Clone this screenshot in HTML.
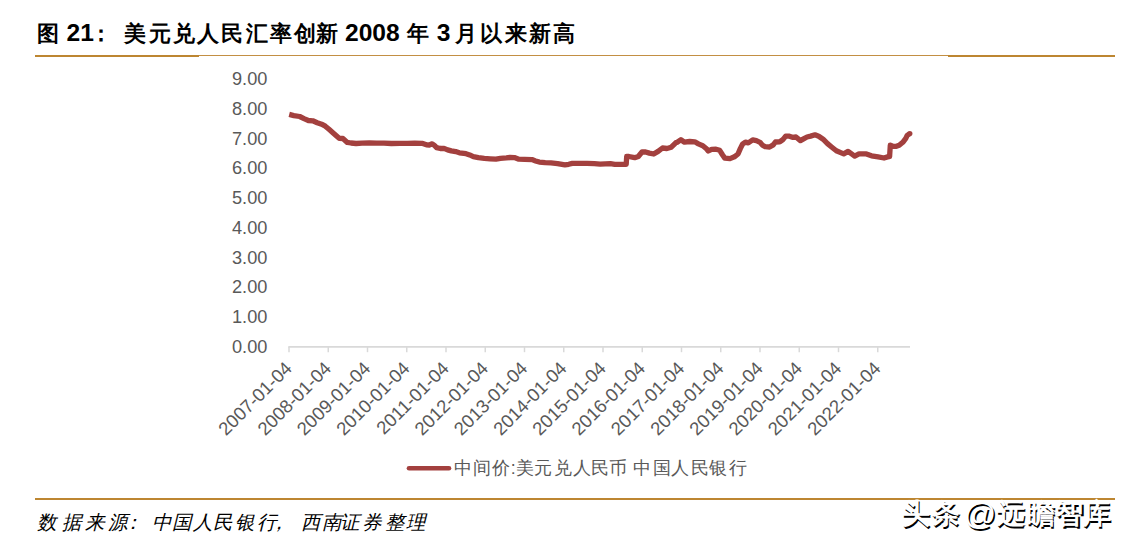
<!DOCTYPE html>
<html><head><meta charset="utf-8"><style>
html,body{margin:0;padding:0;background:#fff;}
body{width:1128px;height:546px;position:relative;overflow:hidden;font-family:"Liberation Sans",sans-serif;}
.rule1{position:absolute;left:35px;top:55px;width:164px;height:2px;background:#BD8631;}
.rule2{position:absolute;left:199px;top:55px;width:749px;height:1.3px;background:#C38F43;}
.rule4{position:absolute;left:948px;top:55px;width:167px;height:2px;background:#BD8631;}
.rule3{position:absolute;left:35px;top:498px;width:1080px;height:2px;background:#BD8631;}
svg{position:absolute;left:0;top:0;}
</style></head><body>
<div class="rule1"></div><div class="rule2"></div><div class="rule4"></div><div class="rule3"></div>
<svg width="1128" height="546" viewBox="0 0 1128 546">
<g font-family="Liberation Sans" font-weight="bold" fill="#000"><text><tspan x="37" y="40.6" font-size="22">图</tspan> <tspan x="66.6" y="41.2" font-size="24.6">21</tspan> <tspan x="90 123.9 149 173 196.5 221 246.2 269.6 294 316.4" y="40.6" font-size="22">：美元兑人民汇率创新</tspan> <tspan x="345" y="41.2" font-size="24.6">2008</tspan> <tspan x="407" y="40.6" font-size="22">年</tspan> <tspan x="436.8" y="41.2" font-size="24.6">3</tspan> <tspan x="454.9 480 505 529.4 552.8" y="40.6" font-size="22">月以来新高</tspan></text></g>
<g font-family="Liberation Sans" font-size="18.2" fill="#595959">
<text x="267.4" y="353.0" text-anchor="end">0.00</text>
<text x="267.4" y="323.2" text-anchor="end">1.00</text>
<text x="267.4" y="293.4" text-anchor="end">2.00</text>
<text x="267.4" y="263.6" text-anchor="end">3.00</text>
<text x="267.4" y="233.8" text-anchor="end">4.00</text>
<text x="267.4" y="204.1" text-anchor="end">5.00</text>
<text x="267.4" y="174.3" text-anchor="end">6.00</text>
<text x="267.4" y="144.5" text-anchor="end">7.00</text>
<text x="267.4" y="114.7" text-anchor="end">8.00</text>
<text x="267.4" y="84.9" text-anchor="end">9.00</text>

</g>
<line x1="288.3" y1="346.9" x2="910" y2="346.9" stroke="#D9D9D9" stroke-width="1.8"/>
<g stroke="#D9D9D9" stroke-width="1.5">
<line x1="289.00" y1="346.9" x2="289.00" y2="352.2" />
<line x1="328.25" y1="346.9" x2="328.25" y2="352.2" />
<line x1="367.50" y1="346.9" x2="367.50" y2="352.2" />
<line x1="406.75" y1="346.9" x2="406.75" y2="352.2" />
<line x1="446.00" y1="346.9" x2="446.00" y2="352.2" />
<line x1="485.25" y1="346.9" x2="485.25" y2="352.2" />
<line x1="524.50" y1="346.9" x2="524.50" y2="352.2" />
<line x1="563.75" y1="346.9" x2="563.75" y2="352.2" />
<line x1="603.00" y1="346.9" x2="603.00" y2="352.2" />
<line x1="642.25" y1="346.9" x2="642.25" y2="352.2" />
<line x1="681.50" y1="346.9" x2="681.50" y2="352.2" />
<line x1="720.75" y1="346.9" x2="720.75" y2="352.2" />
<line x1="760.00" y1="346.9" x2="760.00" y2="352.2" />
<line x1="799.25" y1="346.9" x2="799.25" y2="352.2" />
<line x1="838.50" y1="346.9" x2="838.50" y2="352.2" />
<line x1="877.75" y1="346.9" x2="877.75" y2="352.2" />

</g>
<g font-family="Liberation Sans" font-size="18.5" fill="#595959">
<text transform="translate(293.0,369.5) rotate(-45)" text-anchor="end">2007-01-04</text>
<text transform="translate(332.2,369.5) rotate(-45)" text-anchor="end">2008-01-04</text>
<text transform="translate(371.5,369.5) rotate(-45)" text-anchor="end">2009-01-04</text>
<text transform="translate(410.8,369.5) rotate(-45)" text-anchor="end">2010-01-04</text>
<text transform="translate(450.0,369.5) rotate(-45)" text-anchor="end">2011-01-04</text>
<text transform="translate(489.2,369.5) rotate(-45)" text-anchor="end">2012-01-04</text>
<text transform="translate(528.5,369.5) rotate(-45)" text-anchor="end">2013-01-04</text>
<text transform="translate(567.8,369.5) rotate(-45)" text-anchor="end">2014-01-04</text>
<text transform="translate(607.0,369.5) rotate(-45)" text-anchor="end">2015-01-04</text>
<text transform="translate(646.2,369.5) rotate(-45)" text-anchor="end">2016-01-04</text>
<text transform="translate(685.5,369.5) rotate(-45)" text-anchor="end">2017-01-04</text>
<text transform="translate(724.8,369.5) rotate(-45)" text-anchor="end">2018-01-04</text>
<text transform="translate(764.0,369.5) rotate(-45)" text-anchor="end">2019-01-04</text>
<text transform="translate(803.2,369.5) rotate(-45)" text-anchor="end">2020-01-04</text>
<text transform="translate(842.5,369.5) rotate(-45)" text-anchor="end">2021-01-04</text>
<text transform="translate(881.8,369.5) rotate(-45)" text-anchor="end">2022-01-04</text>

</g>
<path d="M289.2,114.4 L293.8,115.6 L299.7,116.5 L304.0,118.6 L308.4,120.5 L312.8,120.8 L317.2,122.7 L321.6,124.2 L325.3,126.2 L329.0,129.3 L332.6,132.5 L336.3,135.8 L339.2,138.3 L342.9,138.5 L347.3,142.4 L351.0,143.0 L356.1,143.5 L362.0,143.1 L369.3,143.0 L376.6,143.1 L384.0,143.1 L391.3,143.5 L400.0,143.4 L407.3,143.3 L414.7,143.2 L422.0,143.3 L426.4,144.8 L429.3,145.0 L432.2,143.8 L434.4,145.4 L436.6,147.6 L440.3,148.5 L444.0,148.3 L447.6,149.9 L451.3,150.9 L455.7,151.6 L459.4,152.8 L466.0,153.7 L469.7,154.9 L473.3,156.6 L478.4,157.6 L484.3,158.3 L490.2,158.8 L496.0,159.2 L500.4,158.4 L506.3,157.9 L510.0,157.5 L514.4,157.6 L518.8,159.2 L524.7,159.4 L532.0,159.6 L535.6,160.9 L539.3,162.1 L545.2,162.7 L551.0,162.9 L557.6,163.6 L564.9,164.9 L568.7,164.3 L572.3,163.4 L579.7,163.3 L587.0,163.3 L594.3,163.6 L600.2,164.2 L605.3,163.8 L610.4,163.6 L614.8,164.3 L620.7,164.3 L626.2,164.4 L626.7,156.3 L628.8,156.5 L634.7,157.7 L638.3,156.5 L642.0,152.0 L645.6,152.0 L649.3,153.1 L653.7,154.0 L658.1,151.4 L662.5,148.0 L666.9,148.5 L671.3,147.2 L675.7,142.8 L677.2,142.2 L680.9,139.8 L684.5,142.2 L689.7,141.5 L694.8,141.8 L698.4,143.9 L702.8,145.7 L706.5,148.8 L708.3,151.0 L711.6,149.3 L716.0,149.2 L719.7,150.3 L722.6,155.0 L724.8,158.1 L730.0,158.6 L734.4,156.8 L738.0,154.0 L740.3,148.6 L742.5,144.2 L745.4,142.1 L748.3,142.9 L752.7,139.9 L756.4,140.7 L760.0,142.3 L762.2,144.9 L765.2,146.7 L769.6,147.0 L773.2,144.9 L775.4,142.0 L779.8,141.8 L782.7,139.8 L785.7,136.1 L788.7,136.1 L792.3,137.3 L796.0,137.0 L800.4,140.6 L804.0,138.6 L807.0,137.0 L810.6,136.1 L815.0,134.8 L818.7,136.2 L823.1,139.2 L827.5,143.6 L831.9,147.2 L836.3,150.7 L840.7,152.6 L843.7,153.9 L848.1,151.4 L854.7,156.1 L859.0,153.9 L866.4,153.9 L871.5,155.8 L878.1,156.9 L884.0,158.0 L888.4,156.6 L889.6,156.5 L890.3,145.1 L892.7,146.2 L896.4,146.3 L899.2,145.3 L902.8,142.3 L905.8,138.3 L907.2,135.4 L909.8,133.6" fill="none" stroke="#A3403E" stroke-width="5.3" stroke-linejoin="round" stroke-linecap="butt"/>
<circle cx="909.8" cy="133.6" r="2.65" fill="#A3403E"/>
<line x1="409" y1="468.2" x2="449" y2="468.2" stroke="#A3403E" stroke-width="4.6" stroke-linecap="round"/>
</svg>
<svg width="1128" height="546" viewBox="0 0 1128 546">
<g font-family="Liberation Sans" font-size="17.8" font-weight="300" fill="#595959"><text x="454.0 472.8 492.2 510.8 515.7 534.4 553.6 572.6 591.4 609.2 627.0 633.3 652.5 670.9 691.0 709.4 729.2" y="474.2">中间价:美元兑人民币 中国人民银行</text></g>
<g font-family="Liberation Sans" font-size="19.5" font-style="italic" font-weight="500" fill="#000"><text x="36.8 61.6 85.2 108.2 123.1 151.7 172.0 192.8 212.9 234.8 257.0 268.6 300.8 321.9 340.1 362.4 385.2 406.0" y="529.1">数据来源：中国人民银行，西南证券整理</text></g>
<g font-family="Liberation Sans" font-size="28" font-weight="bold" fill="#fff" style="text-shadow:1.5px 1.8px 0 #000"><text y="522.8"><tspan x="901.5 931.8">头条</tspan> <tspan x="963.8" y="525.2" font-size="32" font-weight="normal">@</tspan><tspan x="996.8 1026.6 1055.0 1082.6" y="522.8">远瞻智库</tspan></text></g>
</svg>
</body></html>
